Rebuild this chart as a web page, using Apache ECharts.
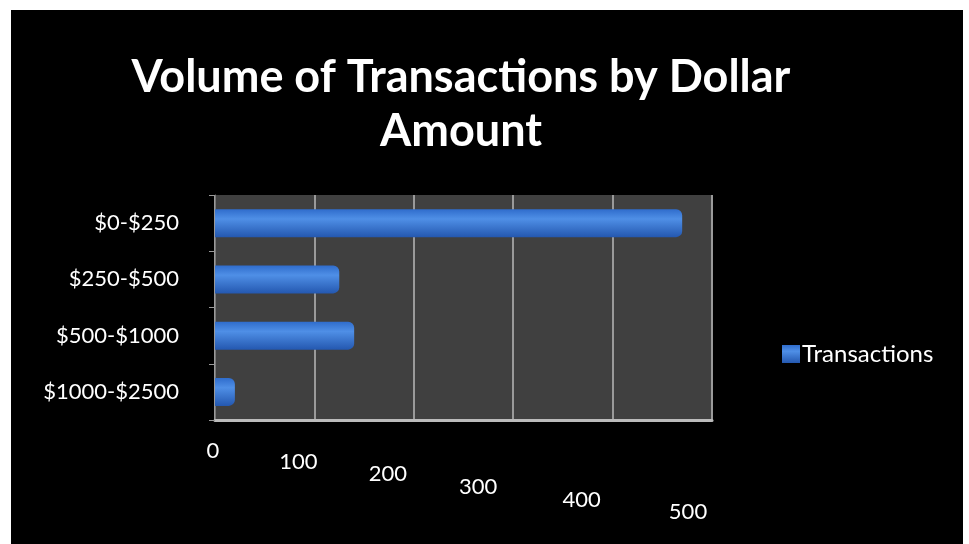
<!DOCTYPE html>
<html><head><meta charset="utf-8">
<script src="https://cdn.jsdelivr.net/npm/echarts@6/dist/echarts.min.js"></script>
<style>html,body{margin:0;padding:0;background:#fff;}#frame{position:absolute;left:11px;top:10px;width:952px;height:534px;background:#000;}#c{position:absolute;left:0;top:0;width:969px;height:544px;}</style>
</head><body><div id="frame"></div><div id="c"></div>
<script>
const categories = ['$0-$250', '$250-$500', '$500-$1000', '$1000-$2500'];
const transactions = [470, 125, 140, 20];
const xTicks = [0, 100, 200, 300, 400, 500];
const seriesName = 'Transactions';

// perspective-like label offsets (left shift, down shift) per tick
const labelShiftX = [2, 16, 26, 35, 31, 24];
const labelShiftY = [0, 11, 23, 36, 49, 61];
const rich = {};
xTicks.forEach((v, i) => {
  rich['t' + i] = { color: '#fff', fontSize: 22, fontFamily: 'Lato', padding: [labelShiftY[i], labelShiftX[i] * 2, 0, 0] };
});

const chart = echarts.init(document.getElementById('c'));
chart.setOption({
  backgroundColor: 'transparent',
  textStyle: { fontFamily: 'Lato' },
  title: {
    text: 'Volume of Transactions by Dollar\nAmount',
    left: 456, top: 45, textAlign: 'center',
    textStyle: { color: '#fff', fontSize: 45, fontWeight: 'bold', fontFamily: 'Lato', lineHeight: 54 }
  },
  legend: {
    data: [seriesName], left: 777, top: 337, orient: 'vertical',
    itemWidth: 18, itemHeight: 18, itemGap: 4,
    textStyle: { color: '#fff', fontSize: 24, fontFamily: 'Lato', padding: [0, 0, 0, -3] },
    icon: 'rect'
  },
  grid: { left: 215, right: 257, top: 195, bottom: 124, backgroundColor: '#404040', show: true, borderWidth: 0 },
  xAxis: {
    type: 'value', min: 0, max: 500, interval: 100,
    axisLabel: {
      color: '#fff', fontSize: 22, margin: 20,
      formatter: v => { const i = xTicks.indexOf(v); return i >= 0 ? '{t' + i + '|' + v + '}' : ''; },
      rich: rich
    },
    axisLine: { show: true, lineStyle: { color: '#bbb', width: 3 } },
    axisTick: { show: false },
    splitLine: { show: true, lineStyle: { color: '#9a9a9a', width: 2 } }
  },
  yAxis: {
    type: 'category', data: categories, inverse: true,
    axisLabel: { color: '#fff', fontSize: 22, margin: 36 },
    axisLine: { show: true, lineStyle: { color: '#777', width: 1 } },
    axisTick: { show: true, length: 6, lineStyle: { color: '#999' } }
  },
  series: [{
    name: seriesName, type: 'bar', data: transactions, barWidth: 28,
    itemStyle: {
      borderRadius: [0, 6, 6, 0],
      color: new echarts.graphic.LinearGradient(0, 0, 0, 1, [
        { offset: 0, color: '#2f6ccc' },
        { offset: 0.35, color: '#4f8fe6' },
        { offset: 1, color: '#2458b0' }
      ])
    }
  }]
});
</script></body></html>
